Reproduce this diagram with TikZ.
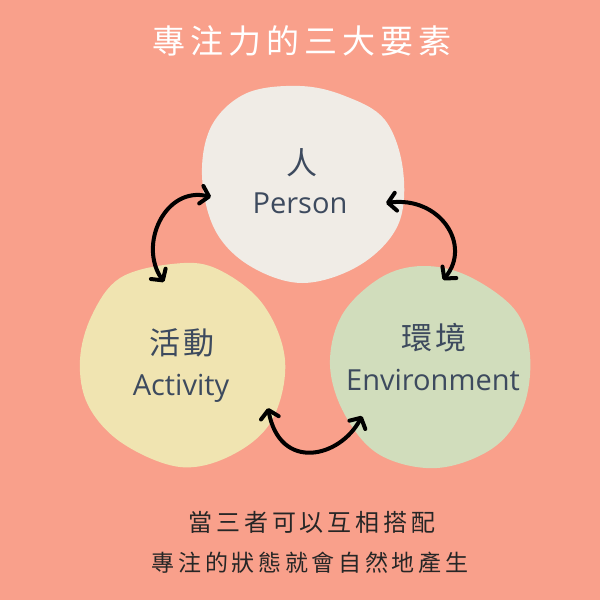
\documentclass[tikz,border=0pt]{standalone}
\usepackage{fontspec}
\setmainfont{Open Sans}
\newfontfamily\cjk{Noto Sans CJK TC}[LetterSpace=8]
\newfontfamily\cjkspaced{Noto Sans CJK TC}[LetterSpace=15]
\newfontfamily\cjkspacedb{Noto Sans CJK TC}[LetterSpace=16]
\usetikzlibrary{arrows.meta}
\definecolor{bg}{HTML}{F9A08B}
\definecolor{blobtop}{HTML}{F0ECE6}
\definecolor{blobleft}{HTML}{F0E4B1}
\definecolor{blobright}{HTML}{D1DDBC}
\definecolor{ink}{HTML}{3D4A5E}
\tikzset{
  cyc/.style={line width=4pt, line cap=round, black,
    {Straight Barb[length=8pt,width=18pt,line cap=round,line join=round]}-{Straight Barb[length=8pt,width=18pt,line cap=round,line join=round]}},
  zh/.style={text=ink, font=\cjk\fontsize{31}{34}\selectfont, inner sep=0pt},
  en/.style={text=ink, font=\fontsize{29}{32}\selectfont, inner sep=0pt, anchor=base},
  title/.style={text=white, font=\cjkspaced\fontsize{33}{38}\selectfont, inner sep=0pt},
  foot/.style={text=black!85, font=\cjkspacedb\fontsize{23}{28}\selectfont, inner sep=0pt}
}
\begin{document}
\begin{tikzpicture}[x=1pt,y=-1pt]
\useasboundingbox (0,0) rectangle (600,600);
\fill[bg] (0,0) rectangle (600,600);
% blobs
\fill[blobtop] plot[smooth cycle, tension=0.6] coordinates {(247,93) (300,86) (345,96) (385,120) (403,170) (398,225) (360,265) (303,283) (250,266) (215,230) (202,175) (212,125)};
\fill[blobleft] plot[smooth cycle, tension=0.6] coordinates {(120,278) (172,264) (215,268) (262,303) (285,360) (272,420) (232,455) (180,467) (122,443) (88,405) (80,360) (92,315)};
\fill[blobright] plot[smooth cycle, tension=0.6] coordinates {(380,278) (422,266) (468,276) (515,310) (530,355) (523,408) (493,448) (437,468) (380,455) (345,415) (330,365) (342,315)};
% texts
\node[title] (t) at (302,41) {專注力的三大要素};
\node[zh] (p1) at (302,163) {人};
\node[en] (p2) at (300,213) {Person};
\node[zh] (a1) at (182,343) {活動};
\node[en] (a2) at (181,395) {Activity};
\node[zh] (e1) at (434,338) {環境};
\node[en] (e2) at (433,390) {Environment};
\node[foot] (f1) at (312,522) {\fontsize{24}{28}\selectfont 當三者可以互相搭配};
\node[foot] (f2) at (310,563) {專注的狀態就會自然地產生};
% connectors
\coordinate (c1a) at (211,197);
\coordinate (c1b) at (164,282);
\coordinate (c2a) at (386,203);
\coordinate (c2b) at (443,280);
\coordinate (c3a) at (268,408);
\coordinate (c3b) at (362,416);
\draw[cyc] (c1a) .. controls (165,186) and (138,245) .. (c1b);
\draw[cyc] (c2a) .. controls (440,196) and (472,245) .. (c2b);
\draw[cyc] (c3a) .. controls (280,472) and (340,458) .. (c3b);
\end{tikzpicture}
\end{document}
